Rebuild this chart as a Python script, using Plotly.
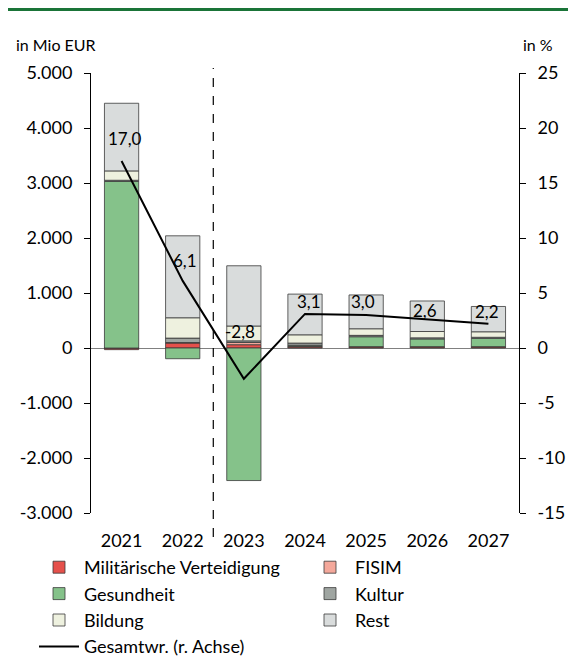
import plotly.graph_objects as go

# Daten (in Mio EUR bzw. %)
jahre = ["2021", "2022", "2023", "2024", "2025", "2026", "2027"]
militaer = [-30, 90, 60, 20, 20, 20, 20]
fisim = [0, 10, 40, 10, 5, 5, 5]
gesundheit = [3030, -195, -2410, 20, 180, 140, 150]
kultur = [20, 80, 30, 40, 25, 20, 20]
bildung = [170, 370, 270, 150, 120, 115, 100]
rest = [1230, 1490, 1095, 740, 615, 555, 460]
gesamt = [17.0, 6.1, -2.8, 3.1, 3.0, 2.6, 2.2]

ticks_links = [-3000, -2000, -1000, 0, 1000, 2000, 3000, 4000, 5000]
ticks_rechts = [-15, -10, -5, 0, 5, 10, 15, 20, 25]

# Verschiebung der Datenbeschriftungen (px)
label_dy = [23, 20, 47, 12, 14, 9, 12]
label_dx = [3, 2, -4, 4, -3, -2, -1]

FONT = "Lato"
# Seite hat 8px Rand -> Abbildung etwas kleiner
W, H = 568, 649
L, R, T, B = 83, 57, 65, 144
pw, ph = W - L - R, H - T - B

def px_x(px):
    return (px - L) / pw

def px_y(py):
    return (H - B - py) / ph

def tausender(v):
    return f"{v:,}".replace(",", ".")

serien = [
    ("Militärische Verteidigung", militaer, "#E5504B", "legend"),
    ("FISIM", fisim, "#F4A89B", "legend2"),
    ("Gesundheit", gesundheit, "#85C28A", "legend"),
    ("Kultur", kultur, "#9FA5A1", "legend2"),
    ("Bildung", bildung, "#EEF1DF", "legend"),
    ("Rest", rest, "#D9DCDC", "legend2"),
]

fig = go.Figure()
for name, werte, farbe, leg in serien:
    fig.add_trace(go.Bar(
        x=jahre, y=werte, name=name, legend=leg,
        marker=dict(color=farbe, line=dict(color="#3a3a3a", width=0.8)),
    ))

fig.add_trace(go.Scatter(
    x=jahre, y=gesamt, yaxis="y2", mode="lines", legend="legend",
    name="Gesamtwr. (r. Achse)", line=dict(color="black", width=2),
))

# Datenbeschriftungen der Linie (x als Kategorieindex)
for i, (v, dy, dx) in enumerate(zip(gesamt, label_dy, label_dx)):
    fig.add_annotation(
        x=i, y=v, yref="y2", text=f"{v:.1f}".replace(".", ","),
        showarrow=False, yshift=dy, xshift=dx,
        font=dict(family=FONT, size=17, color="black"),
    )

# Achsentitel
fig.add_annotation(x=px_x(6), y=px_y(37), xref="paper", yref="paper",
                   text="in Mio EUR", showarrow=False,
                   xanchor="left", yanchor="middle",
                   font=dict(family=FONT, size=16, color="black"))
fig.add_annotation(x=px_x(547), y=px_y(37), xref="paper", yref="paper",
                   text="in %", showarrow=False,
                   xanchor="right", yanchor="middle",
                   font=dict(family=FONT, size=16, color="black"))

# gestrichelte Trennlinie zwischen 2022 und 2023
fig.add_shape(type="line", xref="x", yref="paper", x0=1.5, x1=1.5,
              y0=px_y(529), y1=px_y(60),
              line=dict(color="black", width=1.2, dash="dash"))
# grüner Balken oben
fig.add_shape(type="line", xref="paper", yref="paper",
              x0=px_x(0), x1=px_x(W), y0=px_y(1.5), y1=px_y(1.5),
              line=dict(color="#1A7438", width=3))

leg_style = dict(xref="container", yref="container", orientation="v",
                 xanchor="left", yanchor="top", itemwidth=40,
                 font=dict(family=FONT, size=18), traceorder="normal",
                 bgcolor="rgba(0,0,0,0)")

fig.update_layout(
    width=W, height=H,
    margin=dict(l=L, r=R, t=T, b=B, autoexpand=False),
    barmode="relative", bargap=0.44,
    plot_bgcolor="white", paper_bgcolor="white",
    font=dict(family=FONT, size=18, color="black"),
    xaxis=dict(type="category", showline=False, ticks="", showgrid=False,
               ticklabelstandoff=15, tickfont=dict(size=18)),
    yaxis=dict(range=[-3000, 5000], tickmode="array", tickvals=ticks_links,
               ticktext=[tausender(v) for v in ticks_links],
               showgrid=False, showline=True, linecolor="black", linewidth=1,
               ticks="outside", ticklen=6, tickcolor="black",
               ticklabelstandoff=8,
               zeroline=True, zerolinecolor="#808080", zerolinewidth=1,
               tickfont=dict(size=18)),
    yaxis2=dict(range=[-15, 25], tickmode="array", tickvals=ticks_rechts,
                ticktext=[str(v) for v in ticks_rechts],
                overlaying="y", side="right",
                showgrid=False, showline=True, linecolor="black", linewidth=1,
                ticks="outside", ticklen=6, tickcolor="black",
                ticklabelstandoff=8,
                zeroline=False, tickfont=dict(size=18)),
    legend=dict(x=26 / W, y=(H - 541) / H, **leg_style),
    legend2=dict(x=297 / W, y=(H - 541) / H, **leg_style),
    showlegend=True,
)

fig.write_html("out.html")
